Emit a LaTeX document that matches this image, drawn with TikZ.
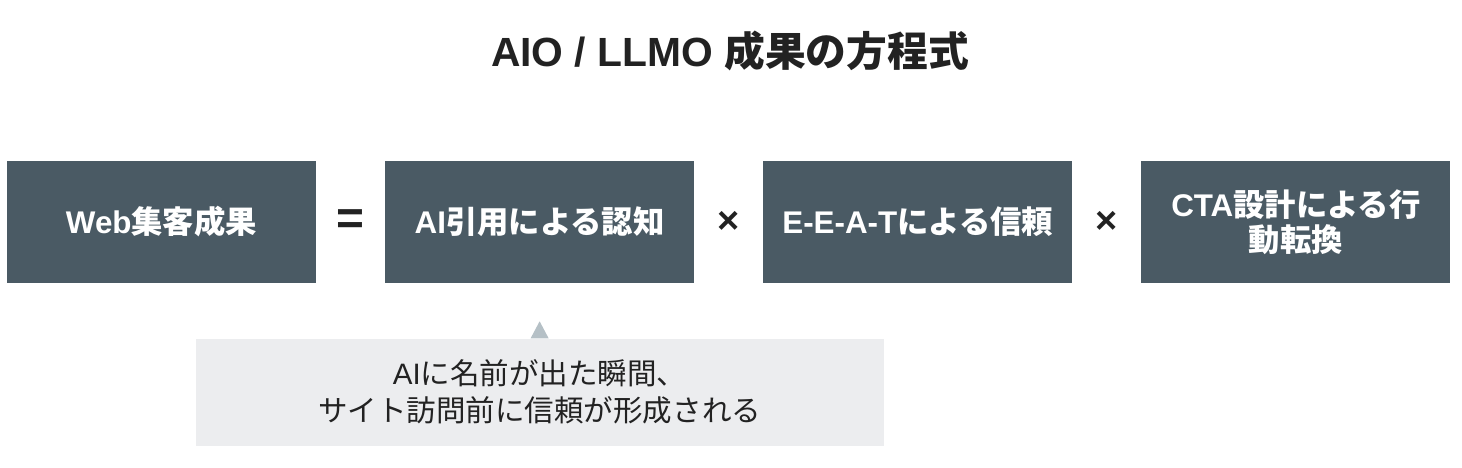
\documentclass[tikz,border=0pt]{standalone}
\usepackage{fontspec}
\setmainfont{Liberation Sans}
\newfontfamily\jp{Noto Sans CJK JP}
\usepackage{tikz}
\usetikzlibrary{positioning,calc}
\usepackage{xcolor}
\definecolor{slate}{HTML}{4A5A64}
\definecolor{ink}{HTML}{222222}
\definecolor{notebg}{HTML}{ECEDEF}
\definecolor{tipgray}{HTML}{B5C0C6}
\tikzset{
  term/.style={fill=slate,text=white,align=center,inner sep=0pt,
    minimum width=7.725cm,minimum height=3.05cm,
    font=\bfseries\fontsize{22.3}{25}\selectfont},
  op/.style={text=ink,inner sep=0pt,minimum width=1.7cm,
    font=\bfseries\fontsize{27}{27}\selectfont},
  note/.style={fill=notebg,text=ink,align=center,inner sep=0pt,
    minimum width=17.2cm,minimum height=2.675cm,
    font=\fontsize{21}{26}\selectfont},
  pointer/.style={fill=tipgray,draw=none},
  headline/.style={text=ink,inner sep=0pt,font=\bfseries\fontsize{29}{30}\selectfont}
}

\begin{document}
\begin{tikzpicture}[node distance=0cm]
        \useasboundingbox (0,0) rectangle (36.55,-11.7);
        \node[headline] (title) at (18.25,-1.28) {AIO / LLMO {\jp 成果の方程式}};
        \node[term] (web) at (4.0375,-5.55) {Web{\jp 集客成果}};
        \node[op,right=of web,font=\bfseries\fontsize{34}{34}\selectfont] (eq) {=};
        \node[term,right=of eq] (cite) {AI{\jp 引用による認知}};
        \node[op,right=of cite] (x1) {×};
        \node[term,right=of x1] (eeat) {E-E-A-T{\jp による信頼}};
        \node[op,right=of eeat] (x2) {×};
        \node[term,right=of x2] (cta) {CTA{\jp 設計による行}\\{\jp 動転換}};
        \node[note,below=1.375cm of cite] (note) {AI{\jp に名前が出た瞬間、}\\{\jp サイト訪問前に信頼が形成される}};
        \fill[pointer] ($(note.north)+(-0.225,0)$) -- ($(note.north)+(0,0.425)$) -- ($(note.north)+(0.225,0)$) -- cycle;
      \end{tikzpicture}
\end{document}
